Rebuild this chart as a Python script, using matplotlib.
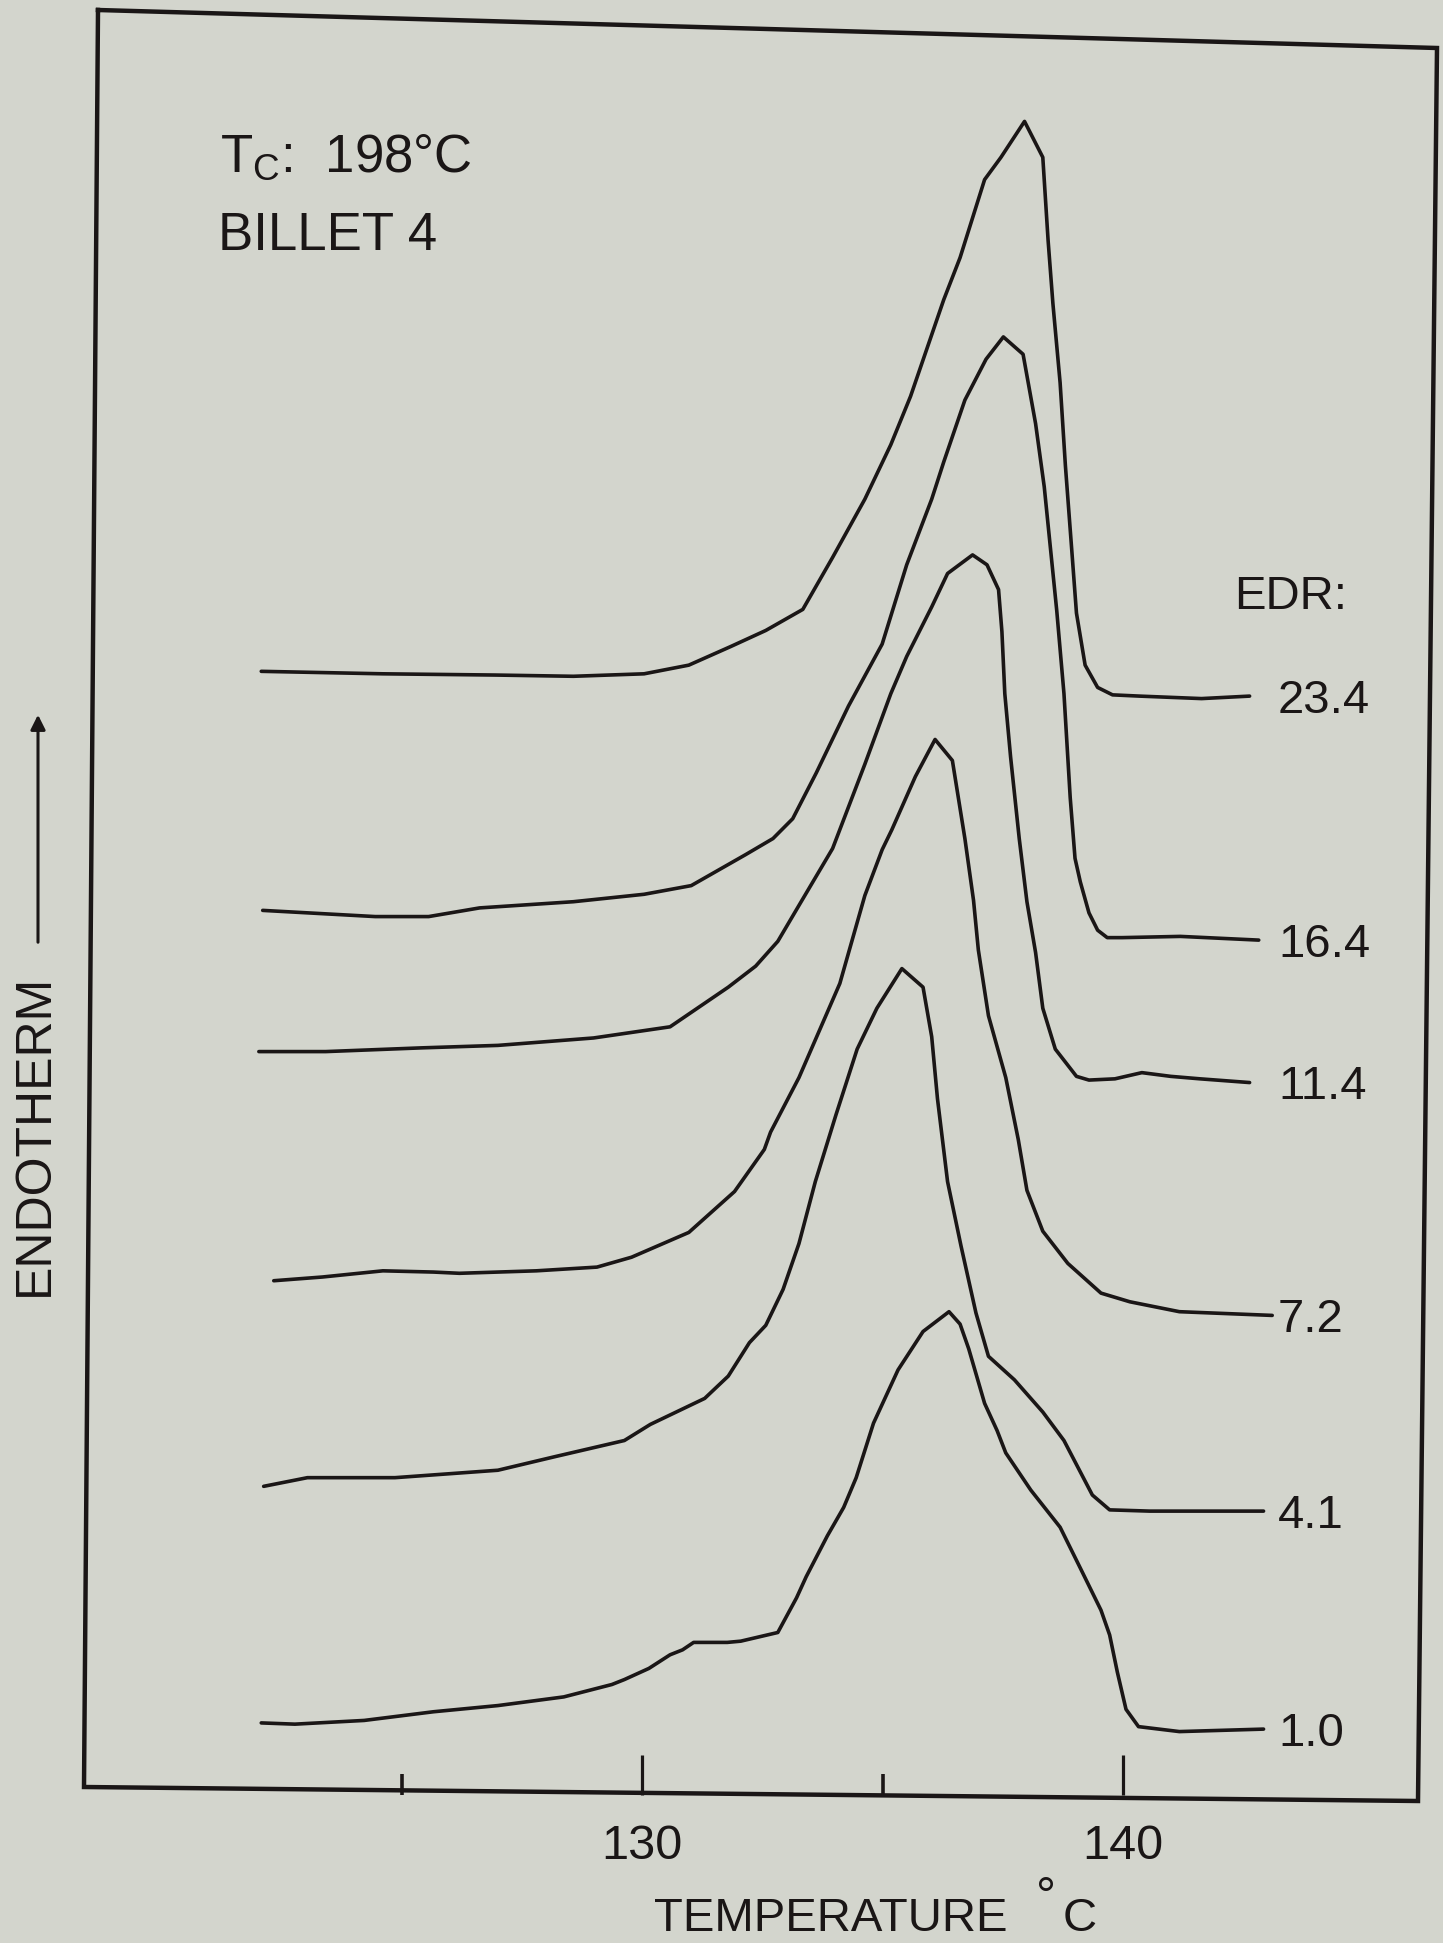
import matplotlib
matplotlib.use("Agg")
import matplotlib.pyplot as plt
from matplotlib.lines import Line2D
from matplotlib.patches import FancyArrowPatch

plt.rcParams['font.family'] = ['Liberation Sans', 'DejaVu Sans']
plt.rcParams['mathtext.fontset'] = 'custom'
plt.rcParams['mathtext.rm'] = 'Liberation Sans'

# ---------------- data (temperature in °C, endotherm signal in arbitrary units) ----------------
edr_labels = ['23.4', '16.4', '11.4', '7.2', '4.1', '1.0']

t_234 = [122.08, 124.61, 126.95, 128.57, 130.04, 130.97, 131.84, 132.57, 133.34, 133.96,
         134.63, 135.17, 135.58, 136.27, 136.61, 137.12, 137.46, 137.95, 138.33, 138.44,
         138.54, 138.69, 138.80, 138.93, 139.03, 139.21, 139.47, 139.78, 140.34, 141.63, 142.63]
h_234 = [903, 901, 900, 899, 901, 908, 923, 936, 953, 995,
         1042, 1086, 1125, 1203, 1237, 1300, 1318, 1347, 1318, 1251,
         1200, 1136, 1069, 1002, 950, 908, 890, 884, 883, 881, 883]

t_164 = [122.11, 124.45, 125.56, 126.62, 128.57, 130.04, 131.02, 132.15, 132.72, 133.13,
         133.62, 134.29, 134.99, 135.50, 136.02, 136.27, 136.71, 137.15, 137.51, 137.92,
         138.18, 138.36, 138.49, 138.62, 138.77, 138.90, 139.00, 139.11, 139.29, 139.47,
         139.67, 139.98, 141.19, 142.82]
h_164 = [710, 705, 705, 712, 717, 723, 730, 755, 768, 784,
         821, 875, 925, 989, 1042, 1072, 1122, 1155, 1173, 1159,
         1103, 1052, 1002, 952, 885, 801, 752, 733, 708, 694,
         688, 688, 689, 686]

t_114 = [122.03, 123.42, 125.41, 127.00, 128.99, 130.58, 131.79, 132.36, 132.82, 133.26,
         133.96, 134.63, 135.17, 135.50, 136.02, 136.35, 136.87, 137.17, 137.41, 137.48,
         137.54, 137.66, 137.84, 138.00, 138.18, 138.33, 138.59, 139.03, 139.29, 139.83,
         140.39, 140.99, 141.60, 142.63]
h_114 = [596, 596, 599, 601, 607, 616, 648, 665, 685, 714,
         760, 828, 885, 915, 955, 982, 997, 989, 969, 935,
         885, 834, 768, 717, 676, 631, 598, 576, 573, 574,
         579, 576, 574, 571]

t_72 = [122.34, 123.35, 124.61, 125.66, 126.20, 127.80, 129.06, 129.78, 130.97, 131.92,
        132.54, 132.67, 133.26, 134.11, 134.63, 134.99, 135.19, 135.68, 136.09, 136.45,
        136.71, 136.89, 136.99, 137.20, 137.56, 137.82, 138.00, 138.33, 138.85, 139.54,
        140.14, 141.17, 143.10]
h_72 = [411, 414, 419, 418, 417, 419, 422, 430, 450, 483,
        517, 531, 575, 651, 722, 759, 775, 818, 848, 831,
        768, 718, 678, 625, 575, 525, 484, 451, 425, 401,
        394, 386, 383]

t_41 = [122.13, 123.04, 124.86, 127.00, 128.19, 129.63, 130.17, 131.30, 131.79, 132.23,
        132.57, 132.93, 133.26, 133.60, 134.03, 134.47, 134.88, 135.40, 135.84, 136.02,
        136.14, 136.35, 136.63, 136.94, 137.20, 137.74, 138.33, 138.77, 139.36, 139.72,
        140.55, 142.92]
h_41 = [245, 252, 252, 258, 269, 282, 295, 316, 334, 361,
        375, 404, 441, 491, 545, 598, 631, 663, 648, 608,
        558, 491, 439, 385, 350, 331, 305, 282, 238, 226,
        225, 225]

t_10 = [122.08, 122.78, 124.22, 125.66, 127.00, 128.37, 129.37, 129.63, 130.14, 130.58,
        130.84, 131.07, 131.77, 132.05, 132.82, 133.21, 133.41, 133.85, 134.19, 134.45,
        134.81, 135.32, 135.84, 136.38, 136.61, 136.79, 137.12, 137.38, 137.56, 138.08,
        138.69, 139.11, 139.54, 139.72, 139.88, 140.06, 140.32, 141.17, 142.92]
h_10 = [54, 53, 56, 63, 68, 75, 85, 89, 98, 109,
        113, 119, 119, 120, 127, 155, 172, 205, 228, 252,
        296, 339, 370, 386, 376, 356, 312, 290, 272, 242,
        212, 179, 145, 125, 95, 65, 51, 47, 49]

major_ticks = [130, 140]
minor_ticks = [125, 135]

series_t = [t_234, t_164, t_114, t_72, t_41, t_10]
series_h = [h_234, h_164, h_114, h_72, h_41, h_10]

# ---------------- styling / layout ----------------
W, H = 1443, 1943
BG = '#d3d5cd'
INK = '#1a1616'

fig = plt.figure(figsize=(W / 100, H / 100), dpi=100, facecolor=BG)
ax = fig.add_axes([91 / W, 1 - 1795 / H, (1429 - 91) / W, (1795 - 28) / H])
ax.set_facecolor(BG)
ax.set_xlim(118.54, 146.36)
ax.set_ylim(-4.2, 1422.4)
for s in ax.spines.values():
    s.set_visible(False)

# hand-drawn looking frame (slightly skewed like the scan)
fx = [98, 1437, 1418, 84, 98]
fy = [10, 48, 1801, 1787, 10]
fig.add_artist(Line2D([x / W for x in fx], [1 - y / H for y in fy],
                      transform=fig.transFigure, color=INK, lw=3.2,
                      solid_joinstyle='miter'))

ax.set_xticks(major_ticks)
ax.set_xticklabels([str(v) for v in major_ticks])
ax.set_xticks(minor_ticks, minor=True)
ax.tick_params(axis='x', which='major', direction='in', length=29, width=2.3,
               color=INK, labelsize=35, pad=21, labelcolor=INK)
ax.tick_params(axis='x', which='minor', direction='in', length=15, width=2.6, color=INK)
ax.set_yticks([])

for t, h, lbl in zip(series_t, series_h, edr_labels):
    ax.plot(t, h, color=INK, lw=2.6, solid_joinstyle='round', solid_capstyle='round')
    ax.annotate(lbl, (143.22, h[-1]), xytext=(0, -12), textcoords='offset points',
                fontsize=34, ha='left', va='baseline', color=INK)

ax.annotate('EDR:', (142.31, 967), xytext=(0, -12), textcoords='offset points',
            fontsize=34, ha='left', va='baseline', color=INK)


def ftext(x, y, s, **kw):
    kw.setdefault('color', INK)
    fig.text(x / W, 1 - y / H, s, **kw)


ftext(220, 172, r'$\mathregular{T_C}$:  198°C', fontsize=38, va='baseline')
ftext(218, 250, 'BILLET 4', fontsize=38, va='baseline')

ftext(34.5, 1134.5, 'ENDOTHERM', fontsize=36, rotation=90, ha='center', va='center')
fig.add_artist(FancyArrowPatch((38 / W, 1 - 945 / H), (38 / W, 1 - 712 / H),
                               transform=fig.transFigure, arrowstyle='-|>',
                               mutation_scale=22, lw=2.2, color=INK))

ftext(654, 1931, 'TEMPERATURE', fontsize=34, va='baseline')
ftext(1036, 1912, '°', fontsize=36, va='baseline')
ftext(1063, 1931, 'C', fontsize=34, va='baseline')

fig.savefig('out.png', dpi=100, facecolor=BG)
